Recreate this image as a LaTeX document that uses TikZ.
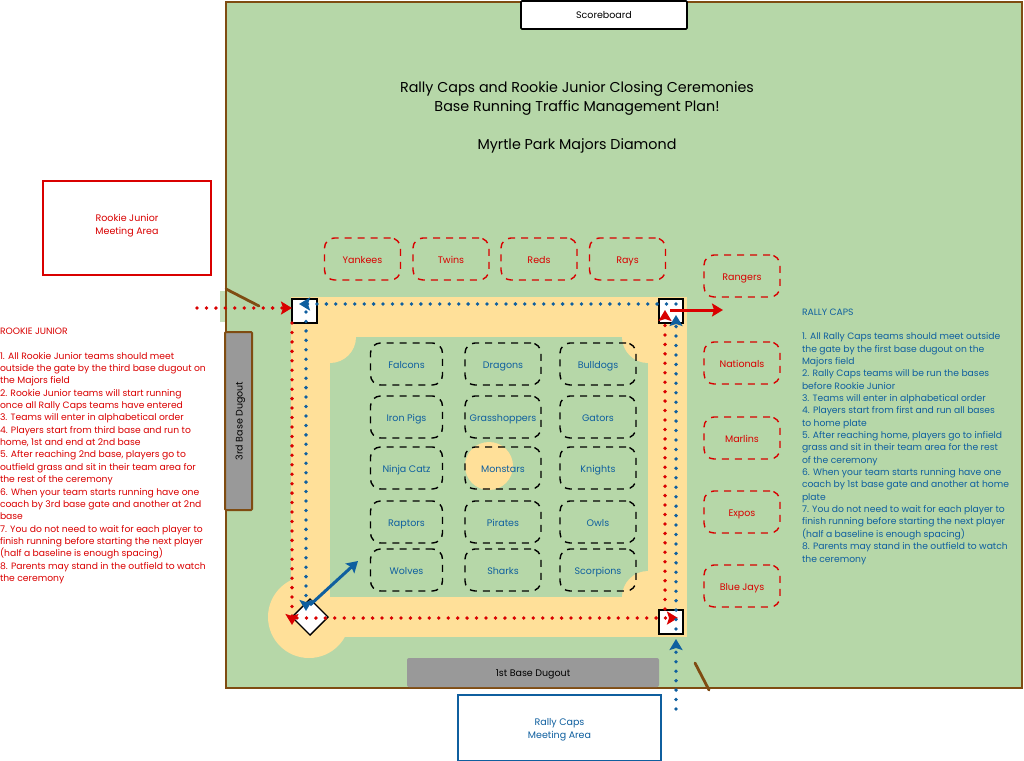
\documentclass[tikz,border=0pt]{standalone}
\usepackage{fontspec}
\setmainfont{Poppins}
\usetikzlibrary{arrows.meta,shapes.geometric}
\definecolor{fieldgreen}{HTML}{B6D7A8}
\definecolor{sand}{HTML}{FFE099}
\definecolor{fieldbrown}{HTML}{7F4C12}
\definecolor{dugoutgray}{HTML}{999999}
\definecolor{redink}{HTML}{D90000}
\definecolor{blueink}{HTML}{0F5F9F}
\tikzset{
  every node/.style={inner sep=0pt,outer sep=0pt},
  bodytext/.style={font=\fontsize{9.2}{12.35}\selectfont,align=left,anchor=north west},
  label/.style={font=\fontsize{9.5}{13}\selectfont,align=center,text height=8pt,text depth=0pt},
  title/.style={font=\fontsize{14.3}{19}\selectfont,align=center,text=black},
  teamb/.style={draw=black,dashed,dash pattern=on 7pt off 6pt,line width=1.4pt,rounded corners=10pt,
     minimum width=72pt,minimum height=42pt,text=blueink,label},
  teamw/.style={teamb,minimum width=76pt},
  teamr/.style={teamb,draw=redink,text=redink,minimum width=76pt},
  basebox/.style={draw=black,fill=white,line width=1.4pt,minimum width=24pt,minimum height=24pt},
  reddots/.style={draw=redink,line width=3.8pt,line cap=round,dash pattern=on 0pt off 9.45pt,
     -{Stealth[length=11pt,width=13pt,inset=2pt]}},
  bluedots/.style={reddots,draw=blueink},
  redsolid/.style={draw=redink,line width=3pt,-{Stealth[length=11pt,width=13pt,inset=2pt]}},
  bluesolid/.style={redsolid,draw=blueink},
  gateline/.style={draw=fieldbrown,line width=2.8pt,line cap=round},
}
\begin{document}
\begin{tikzpicture}[x=1pt,y=-1pt]
\useasboundingbox (0,0) rectangle (1024,760);
% field
\fill[fieldgreen!80!white] (220,291) rectangle (226,322);
\node[draw=fieldbrown,fill=fieldgreen,line width=2.8pt,minimum width=796pt,minimum height=686pt] (field) at (624,345) {};
% infield
\fill[sand] (291,297) rectangle (687,637);
\fill[sand] (309,617) circle (41);
\fill[fieldgreen] (330,337) rectangle (648,597);
\fill[sand] (330,337) circle (26);
\fill[sand] (648,337) circle (26);
\fill[sand] (648,597) circle (26);
\fill[sand] (489,466) circle (24);
% dugouts and boxes
\node[draw=fieldbrown,fill=dugoutgray,line width=2pt,rounded corners=1pt,minimum width=27pt,minimum height=178pt] (third dugout) at (238.5,421) {};
\node[rotate=90,label] at (238.5,421) {3rd Base Dugout};
\node[fill=dugoutgray,rounded corners=2pt,minimum width=252pt,minimum height=29pt,label] (first dugout) at (533,672.5) {1st Base Dugout};
\node[draw=black,fill=white,line width=1.6pt,rounded corners=1pt,minimum width=166pt,minimum height=28pt,label] (scoreboard) at (604,15) {Scoreboard};
\node[draw=redink,fill=white,line width=1.7pt,minimum width=168pt,minimum height=94pt,label,text height=12pt,text=redink] (rookie) at (127,228) {Rookie Junior\\Meeting Area};
\node[draw=blueink,fill=white,line width=1.7pt,minimum width=203pt,minimum height=66pt,label,text height=20pt,text=blueink] (rally) at (559.5,728) {Rally Caps\\Meeting Area};
% titles
\node[title] (title) at (577,98) {Rally Caps and Rookie Junior Closing Ceremonies\\Base Running Traffic Management Plan!};
\node[title] (subtitle) at (577,145.5) {Myrtle Park Majors Diamond};
% gates
\coordinate (g3a) at (226,289); \coordinate (g3b) at (259,306);
\coordinate (g1a) at (695,663); \coordinate (g1b) at (709,690);
\draw[gateline] (g3a) -- (g3b);
\draw[gateline] (g1a) -- (g1b);
% red teams
\node[teamr] (yankees) at (362.5,259) {Yankees};
\node[teamr] (twins) at (451,259) {Twins};
\node[teamr] (reds) at (539,259) {Reds};
\node[teamr] (rays) at (627.5,259) {Rays};
\node[teamr] (rangers) at (742,276) {Rangers};
\node[teamr] (nationals) at (742,363) {Nationals};
\node[teamr] (marlins) at (742,438) {Marlins};
\node[teamr] (expos) at (742,512) {Expos};
\node[teamr] (bluejays) at (742,586) {Blue Jays};
% black teams
\node[teamb] (falcons) at (406.5,364) {Falcons};
\node[teamw] (dragons) at (503,364) {Dragons};
\node[teamw] (bulldogs) at (598,364) {Bulldogs};
\node[teamb] (ironpigs) at (406.5,417) {Iron Pigs};
\node[teamw] (grasshoppers) at (503,417) {Grasshoppers};
\node[teamw] (gators) at (598,417) {Gators};
\node[teamb] (ninjacatz) at (406.5,468) {Ninja Catz};
\node[teamw] (monstars) at (503,468) {Monstars};
\node[teamw] (knights) at (598,468) {Knights};
\node[teamb] (raptors) at (406.5,522) {Raptors};
\node[teamw] (pirates) at (503,522) {Pirates};
\node[teamw] (owls) at (598,522) {Owls};
\node[teamb] (wolves) at (406.5,570) {Wolves};
\node[teamw] (sharks) at (503,570) {Sharks};
\node[teamw] (scorpions) at (598,570) {Scorpions};
% bases
\node[basebox,minimum width=25pt] (third) at (304.5,311) {};
\node[basebox] (second) at (671,311) {};
\node[basebox] (first) at (671,622) {};
\node[diamond,aspect=1,draw=black,fill=white,line width=1.4pt,minimum width=36pt,minimum height=36pt] (home) at (310,617) {};
% free ends
\coordinate (rjstart) at (197,308);
\coordinate (rcstart) at (676,709);
\coordinate (rcgate) at (676,639);
\coordinate (rcout) at (723,310);
\coordinate (bluein) at (358,561);
% red runs
\draw[reddots] (rjstart) -- (third.west |- rjstart);
\draw[reddots] ([shift={(0,0)}]third.south west) -- (292,625);
\draw[reddots] ([shift={(-13,1)}]home.center) -- (678,618);
\draw[reddots] ([shift={(-6,-1)}]first.north) -- ([shift={(-6,-1)}]second.center);
% blue runs
\draw[bluedots] (rcstart) -- (rcgate);
\draw[bluedots] ([shift={(5,7)}]first.center) -- ([shift={(5,4)}]second.center);
\draw[bluedots] ([shift={(5,-7)}]second.center) -- ([shift={(-5.5,-7)}]third.center);
\draw[bluedots] ([shift={(1.5,1)}]third.center) -- (306,611);
% solid
\draw[redsolid] ([shift={(-1,-1)}]second.center) -- (rcout);
\draw[bluesolid] ([shift={(0,-12)}]home.center) -- (bluein);
% explanations
\node[bodytext,text=redink] (rjtext) at (0,328) {ROOKIE JUNIOR\\[12.35pt]
1. All Rookie Junior teams should meet\\
outside the gate by the third base dugout on\\
the Majors field\\
2. Rookie Junior teams will start running\\
once all Rally Caps teams have entered\\
3. Teams will enter in alphabetical order\\
4. Players start from third base and run to\\
home, 1st and end at 2nd base\\
5. After reaching 2nd base, players go to\\
outfield grass and sit in their team area for\\
the rest of the ceremony\\
6. When your team starts running have one\\
coach by 3rd base gate and another at 2nd\\
base\\
7. You do not need to wait for each player to\\
finish running before starting the next player\\
(half a baseline is enough spacing)\\
8. Parents may stand in the outfield to watch\\
the ceremony};
\node[bodytext,text=blueink] (rctext) at (802,308.5) {RALLY CAPS\\[12.35pt]
1. All Rally Caps teams should meet outside\\
the gate by the first base dugout on the\\
Majors field\\
2. Rally Caps teams will be run the bases\\
before Rookie Junior\\
3. Teams will enter in alphabetical order\\
4. Players start from first and run all bases\\
to home plate\\
5. After reaching home, players go to infield\\
grass and sit in their team area for the rest\\
of the ceremony\\
6. When your team starts running have one\\
coach by 1st base gate and another at home\\
plate\\
7. You do not need to wait for each player to\\
finish running before starting the next player\\
(half a baseline is enough spacing)\\
8. Parents may stand in the outfield to watch\\
the ceremony};
\end{tikzpicture}
\end{document}
